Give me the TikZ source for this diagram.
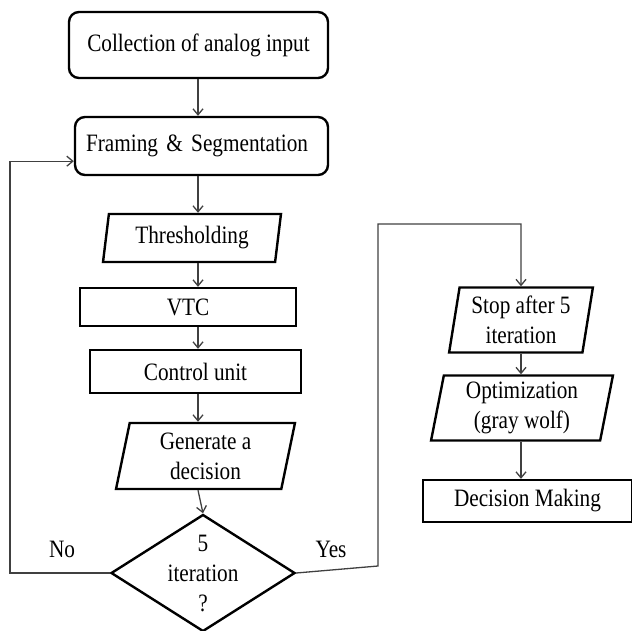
\documentclass[tikz,border=0pt]{standalone}
\usepackage{fontspec}
\setmainfont{Liberation Serif}[FakeStretch=0.85]
\usetikzlibrary{shapes.geometric,arrows.meta,positioning,calc}

\begin{document}
\begin{tikzpicture}[x=1pt, y=-1pt, font=\fontsize{25}{30}\selectfont, >={Straight Barb[length=6pt,width=10pt]}]
    % Define styles
    \tikzstyle{process} = [rectangle, rounded corners=10pt, line width=2.4pt, draw=black, text centered]
    \tikzstyle{block} = [rectangle, line width=2.4pt, draw=black, text centered, inner sep=0pt]
    \tikzstyle{data} = [trapezium, trapezium left angle=80, trapezium right angle=100, trapezium stretches=true, line width=2.4pt, draw=black, align=center, inner sep=0pt]
    \tikzstyle{decision} = [diamond, shape aspect=1.57, minimum width=184pt, minimum height=117pt, inner xsep=0pt, inner ysep=-6pt, line width=2.4pt, draw=black, align=center]
    \tikzstyle{line} = [draw=black!75, line width=1.3pt]

    \useasboundingbox (0,0) rectangle (632,630);

    % Nodes
    \node[process, minimum width=259pt, minimum height=66pt] (analog_input) at (198.5,45) {Collection of analog input};
    \node[process, minimum width=253pt, minimum height=58pt, text width=231pt, align=left, inner xsep=11pt] (framing) at (201.5,146) {Framing \& Segmentation};
    \node[data, minimum width=178pt, minimum height=48pt] (thresholding) at (192,238) {Thresholding};
    \node[block, minimum width=216pt, minimum height=38pt] (vtc) at (188,307) {VTC};
    \node[block, minimum width=211pt, minimum height=43pt] (control_unit) at (195.5,371.5) {Control unit};
    \node[data, minimum width=179pt, minimum height=66pt] (gen_decision) at (205.5,456) {Generate a\\decision};
    \node[decision] (iter_check) at (203,573) {5\\iteration\\?};

    \node[data, minimum width=144pt, minimum height=65pt] (stop_iter) at (521,320) {Stop after 5\\iteration};
    \node[data, minimum width=182pt, minimum height=65pt] (optimization) at (522,408) {Optimization\\(gray wolf)};
    \node[block, minimum width=209pt, minimum height=42pt] (decision_making) at (527.5,501) {Decision Making};

    \node (no_label) at (62,549) {No};
    \node (yes_label) at (331,549) {Yes};

    % Helper coordinates for the connector columns and bends
    \coordinate (spine) at (198,0);
    \coordinate (rspine) at (521,0);
    \coordinate (no_side) at (10,0);
    \coordinate (loop_in) at ([yshift=15pt]framing.south west);
    \coordinate (yes_bend) at (378,566);
    \coordinate (yes_top) at (521,224);

    % Connections
    \draw[line, ->] (analog_input.south -| spine) -- (framing.north -| spine);
    \draw[line, ->] (framing.south -| spine) -- (thresholding.north -| spine);
    \draw[line, ->] (thresholding.south -| spine) -- (vtc.north -| spine);
    \draw[line, ->] (vtc.south -| spine) -- (control_unit.north -| spine);
    \draw[line, ->] (control_unit.south -| spine) -- (gen_decision.north -| spine);
    \draw[line, ->] (gen_decision.south -| spine) -- (iter_check.north);
    \draw[line, ->] (iter_check.west) -- (iter_check.west -| no_side) |- (loop_in);
    \draw[line, ->] (iter_check.east) -- (yes_bend) |- (yes_top) -- (stop_iter.north -| rspine);
    \draw[line, ->] (stop_iter.south -| rspine) -- (optimization.north -| rspine);
    \draw[line, ->] (optimization.south -| rspine) -- (decision_making.north -| rspine);
\end{tikzpicture}
\end{document}
